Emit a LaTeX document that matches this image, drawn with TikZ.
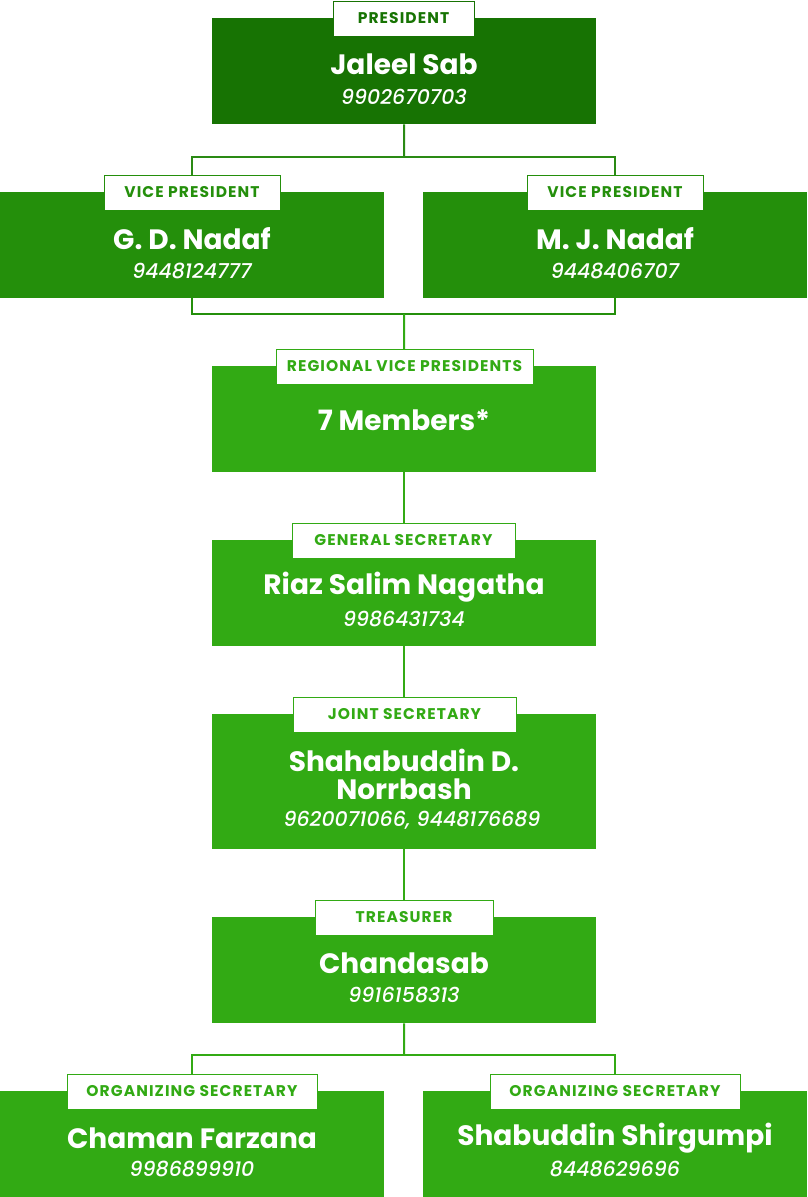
\documentclass[tikz,border=0pt]{standalone}
\usepackage{fontspec}
\setmainfont{Poppins}
\newfontfamily\tagfont{Poppins}[LetterSpace=7]
\newfontfamily\numfont{Poppins}[UprightFont={* Medium Italic}]
\definecolor{gA}{HTML}{177303}
\definecolor{gB}{HTML}{248F0B}
\definecolor{gC}{HTML}{32AA14}
\definecolor{gAl}{HTML}{2A8A14}
\tikzset{
  x=1pt,y=-1pt,
  card/.style={fill=#1, draw=none, inner sep=0pt, anchor=north west, minimum height=106pt, minimum width=384pt},
  tag/.style={fill=white, draw=#1, line width=1pt, inner sep=0pt, minimum height=35pt, anchor=north, text=#1,
     font=\tagfont\fontsize{15.5}{16}\selectfont\bfseries},
  who/.style={text=white, font=\fontsize{28}{28}\selectfont\bfseries, align=center, inner sep=0pt},
  num/.style={text=white, font=\numfont\fontsize{20.5}{21}\selectfont, inner sep=0pt},
  link/.style={draw=#1, line width=2pt},
}
\begin{document}
\begin{tikzpicture}
\useasboundingbox (0,0) rectangle (807,1197);
% cards
\node[card=gA] (pres) at (212,18) {};
\node[card=gB] (vpl) at (0,192) {};
\node[card=gB] (vpr) at (423,192) {};
\node[card=gC] (rvp) at (212,366) {};
\node[card=gC] (gs) at (212,540) {};
\node[card=gC, minimum height=135pt] (js) at (212,714) {};
\node[card=gC] (tr) at (212,917) {};
\node[card=gC] (osl) at (0,1091) {};
\node[card=gC] (osr) at (423,1091) {};
% connectors
\coordinate (j1) at (404,157);
\coordinate (j2) at (404,314);
\coordinate (j3) at (404,1055);
\draw[link=gAl] (pres.south) -- (j1);
\draw[link=gAl] (vpl.north) |- (j1) -| (vpr.north);
\draw[link=gB] (vpl.south) |- (j2) -| (vpr.south);
\draw[link=gC] (j2) -- (rvp.north);
\draw[link=gC] (rvp.south) -- (gs.north);
\draw[link=gC] (gs.south) -- (js.north);
\draw[link=gC] (js.south) -- (tr.north);
\draw[link=gC] (tr.south) -- (j3);
\draw[link=gC] (osl.north) |- (j3) -| (osr.north);
% tags
\node[tag=gA, minimum width=141pt] (tpres) at (403.5,0.5) {PRESIDENT};
\node[tag=gB, minimum width=176pt] (tvpl) at (192,174.5) {VICE PRESIDENT};
\node[tag=gB, minimum width=176pt] (tvpr) at (615,174.5) {VICE PRESIDENT};
\node[tag=gC, minimum width=257pt] (trvp) at (404.5,348.5) {REGIONAL VICE PRESIDENTS};
\node[tag=gC, minimum width=223pt] (tgs) at (403.5,522.5) {GENERAL SECRETARY};
\node[tag=gC, minimum width=223pt] (tjs) at (404.5,696.5) {JOINT SECRETARY};
\node[tag=gC, minimum width=178pt] (ttr) at (404,899.5) {TREASURER};
\node[tag=gC, minimum width=250pt] (tosl) at (192,1073.5) {ORGANIZING SECRETARY};
\node[tag=gC, minimum width=250pt] (tosr) at (615,1073.5) {ORGANIZING SECRETARY};
% texts
\node[who] (npres) at (404,64) {Jaleel Sab};
\node[num] (mpres) at (404,97) {9902670703};
\node[who] (nvpl) at (192,239) {G. D. Nadaf};
\node[num] (mvpl) at (192,271) {9448124777};
\node[who] (nvpr) at (615,239) {M. J. Nadaf};
\node[num] (mvpr) at (615,271) {9448406707};
\node[who] (nrvp) at (404,420) {7 Members*};
\node[who] (ngs) at (404,587) {Riaz Salim Nagatha};
\node[num] (mgs) at (404,619) {9986431734};
\node[who] (njs) at (404,774) {Shahabuddin D.\\Norrbash};
\node[num] (mjs) at (412,820) {9620071066, 9448176689};
\node[who] (ntr) at (404,963) {Chandasab};
\node[num] (mtr) at (404,995) {9916158313};
\node[who] (nosl) at (192,1138) {Chaman Farzana};
\node[num] (mosl) at (192,1169) {9986899910};
\node[who] (nosr) at (615,1138) {Shabuddin Shirgumpi};
\node[num] (mosr) at (615,1169) {8448629696};
\end{tikzpicture}
\end{document}
